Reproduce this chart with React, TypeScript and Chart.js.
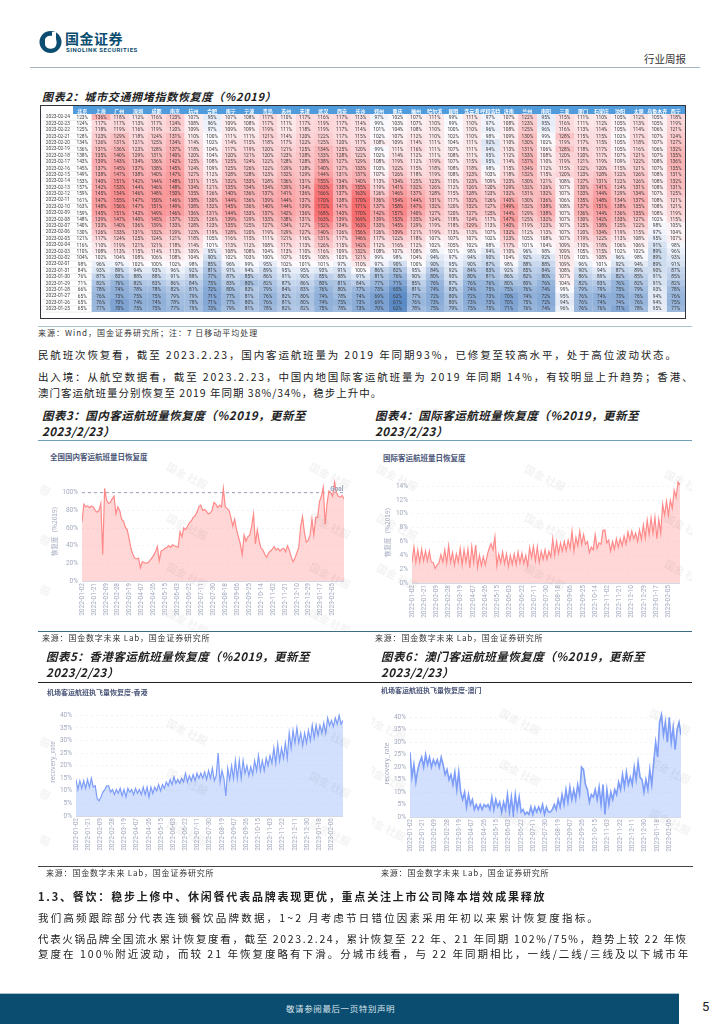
import React, { useEffect, useRef } from "react";
import { Chart, registerables } from "chart.js";

Chart.register(...registerables);

const cities = ["北京","上海","广州","深圳","成都","南京","杭州","合肥","南宁","宁波","青岛","苏州","天津","武汉","西安","长沙","郑州","重庆","福州","哈尔滨","昆明","连云港","呼和浩特","济南","兰州","南阳","三亚","厦门","石家庄","沈阳","太原","乌鲁木齐","西宁"];
const heatDates = ["2023-02-24","2023-02-23","2023-02-22","2023-02-21","2023-02-20","2023-02-19","2023-02-18","2023-02-17","2023-02-16","2023-02-15","2023-02-14","2023-02-13","2023-02-12","2023-02-11","2023-02-10","2023-02-09","2023-02-08","2023-02-07","2023-02-06","2023-02-05","2023-02-04","2023-02-03","2023-02-02","2023-02-01","2023-01-31","2023-01-30","2023-01-29","2023-01-28","2023-01-27","2023-01-26","2023-01-25"];
const heatValues = [
[123,136,118,112,116,123,107,95,107,108,117,110,117,116,117,113,97,102,107,111,99,111,97,107,122,95,115,111,110,105,112,105,118],
[124,117,117,113,117,124,108,96,109,108,117,111,117,119,117,114,99,103,107,110,99,110,97,108,123,95,116,111,112,105,113,105,119],
[125,118,119,116,119,120,109,97,109,109,119,111,118,119,117,114,101,104,108,110,100,110,96,108,125,96,116,113,114,105,114,106,121],
[128,123,129,118,124,131,110,100,111,111,121,114,120,122,117,115,102,107,112,110,102,110,98,109,130,99,128,115,115,102,117,107,124],
[134,126,131,121,125,134,114,102,114,115,118,117,122,125,120,117,108,109,114,111,104,111,92,110,130,102,119,117,115,105,118,107,127],
[136,131,136,123,128,137,118,104,117,119,120,121,125,134,125,120,99,111,116,111,107,111,94,113,131,106,128,118,117,105,116,106,132],
[138,135,140,129,131,140,120,104,120,121,120,123,128,133,128,122,102,114,112,111,108,111,95,112,133,108,120,120,117,107,121,107,135],
[143,139,143,134,136,142,125,108,125,124,122,128,128,138,127,129,108,119,112,119,107,115,95,114,137,110,119,121,119,109,122,108,136],
[145,137,145,137,138,145,124,109,125,126,122,129,128,140,127,133,103,122,115,118,108,118,98,115,134,112,115,122,120,115,121,107,135],
[149,138,147,138,140,147,127,112,128,128,123,132,129,144,131,137,107,126,118,119,108,123,103,118,132,115,120,123,128,122,126,108,131],
[153,140,151,142,144,148,131,115,132,133,128,136,131,155,134,140,113,134,125,123,110,123,109,123,130,121,108,127,131,122,126,108,132],
[157,142,153,144,146,148,134,121,135,134,134,139,134,163,138,155,119,141,132,126,112,126,120,129,132,126,107,130,141,124,131,108,131],
[159,145,154,146,148,150,135,126,140,136,137,141,136,166,137,163,126,146,137,128,115,128,123,132,131,132,107,133,144,129,134,107,125],
[161,147,155,147,150,146,138,130,144,136,139,144,137,170,138,170,136,154,144,131,117,132,126,140,130,136,106,135,148,134,137,108,121],
[163,148,156,147,151,149,138,132,145,136,140,144,139,172,141,171,137,158,147,132,120,132,127,149,132,138,108,137,151,138,135,108,121],
[159,145,151,143,149,146,136,131,144,133,137,142,136,168,143,170,142,157,140,127,120,127,125,144,129,138,107,136,144,136,135,108,119],
[148,139,147,140,145,137,132,126,139,129,133,138,131,163,139,169,139,153,135,124,118,124,117,147,125,132,107,130,142,133,127,102,115],
[140,133,140,136,139,133,128,123,135,125,127,134,127,152,134,163,133,145,129,119,118,129,113,140,119,123,107,125,138,125,122,98,105],
[130,126,133,131,132,129,123,119,128,120,119,129,127,140,126,156,126,139,121,119,113,113,107,132,112,113,107,120,134,119,115,97,104],
[121,117,124,125,124,121,118,105,116,115,111,121,116,131,117,146,117,122,118,107,107,107,102,123,105,108,107,119,122,113,108,95,107],
[116,110,119,121,121,118,114,101,113,112,108,117,113,126,115,142,112,116,112,102,105,102,98,117,101,104,109,110,118,106,106,91,98],
[110,108,113,115,114,113,109,95,108,108,104,113,110,116,109,132,108,107,108,98,101,98,94,110,96,98,109,105,115,102,102,89,96],
[104,102,104,108,106,108,104,90,102,103,100,107,105,108,103,121,99,98,104,94,97,94,90,104,92,92,110,100,108,96,98,89,93],
[98,96,97,102,100,102,98,85,96,99,95,102,101,101,97,110,97,90,100,90,95,90,87,98,88,88,109,96,101,92,94,89,91],
[84,93,89,94,93,96,92,81,91,94,89,95,95,93,91,100,86,82,95,84,92,84,83,92,85,84,108,90,94,87,89,90,87],
[76,87,83,88,88,91,88,77,87,85,86,91,90,85,88,91,81,76,90,80,90,80,81,86,82,80,107,86,89,82,85,91,85],
[71,82,76,82,83,86,84,75,83,80,82,87,86,80,81,84,77,71,85,76,87,76,76,80,80,76,104,82,83,76,82,91,82],
[66,78,74,78,78,82,81,72,80,83,79,84,83,76,80,77,73,65,81,74,83,74,75,75,76,74,99,79,79,75,79,93,78],
[65,76,73,75,75,79,79,71,77,81,76,82,80,74,78,74,69,62,77,72,80,72,73,70,74,72,95,76,74,73,76,94,76],
[65,76,70,74,74,78,78,71,77,80,76,81,80,74,75,73,69,61,76,73,80,73,73,70,75,72,94,76,74,74,76,94,75],
[65,77,70,75,75,77,79,73,79,81,78,82,82,75,78,73,70,62,78,75,79,75,75,71,76,74,96,76,76,71,78,95,77],
];

const dayStep = 3;
const domesticValues = [67,87,84,85,83,85,84,80,78,80,88,30,105,92,88,89,93,96,76,84,80,70,68,61,58,48,37,30,26,25,26,15,22,21,20,21,23,26,29,33,39,23,34,35,37,38,40,38,41,40,39,38,56,50,60,58,62,66,68,72,74,78,84,86,80,81,79,76,77,80,89,87,83,86,84,105,84,82,80,72,62,70,58,50,42,30,52,45,50,52,62,76,42,58,45,37,35,30,27,32,34,36,39,35,37,34,36,37,33,40,35,27,22,26,32,38,62,73,55,44,46,52,70,52,72,72,90,96,106,64,88,102,100,96,112,100,96,95,97,93];
const intlValues = [3.0,5.2,3.0,4.8,3.0,4.9,3.2,4.6,3.2,4.6,3.0,3.0,2.1,2.6,2.9,4.1,3.0,4.8,2.9,5.4,3.0,4.4,2.6,4.2,3.0,5.0,2.6,4.8,3.0,4.9,2.2,5.3,3.0,5.5,2.3,4.0,2.5,3.8,2.6,4.0,5.0,5.7,4.8,6.7,2.5,4.2,2.9,4.5,2.8,4.2,2.4,4.0,2.7,4.2,2.7,4.5,2.9,4.3,2.8,4.0,2.5,5.1,3.7,5.3,3.2,5.2,3.0,4.6,3.4,4.8,3.4,4.6,3.8,6.4,4.0,6.0,4.3,5.8,4.6,6.0,4.7,6.2,5.0,7.5,4.6,6.6,5.4,7.5,5.6,7.0,5.6,6.0,4.4,5.2,4.8,7.0,5.0,5.8,5.6,7.6,7.7,5.8,6.2,4.6,6.0,4.9,6.4,5.2,6.4,5.4,6.8,5.6,7.4,6.2,7.5,6.4,7.2,6.0,7.7,6.3,8.4,6.5,9.1,7.0,9.4,7.2,9.5,6.4,9.2,7.2,11.4,9.8,11.8,9.8,12.0,10.8,13.4,12.4,14.6,14.2];
const hongkongValues = [14.5,10.5,14,11,14,11,14.5,11.5,15,11.5,12,7,6,7.5,9.5,10.5,12,12,9.5,10.5,8.5,10.5,9,11,8,10.5,7.5,11,9.5,10.5,8.5,11,9,10.5,8.5,11.5,8.5,11.5,7.5,11.5,9,11.5,10,12.5,10,12.5,11,13.5,12,14.5,12.5,15.5,13,14.5,13,15,13.5,17,13.5,16,14,16.5,14,17,15,17,15,17.5,14.5,18,15,19,14,16,25,13.5,18,15,8,19,14.5,20,15,22,15,22,15,22,17,20,16,19.5,16.5,22,18,24,18,22,18,23,20,24,21,27,21,28.5,22,27,23,29,23,33,27,34,29,35,29,33,28,33,29,34,30,36,31,36,32,36,33,37,33,39,36,38,35.5,39,36.5,40,36.5,38];
const macauValues = [26,16,21,14,19,22,24,20,25,21,24,20,23,21,23,20,24,21,17,19,15,17,13,18,11,18,10,7,10,4,9,5,7,3,5,3,5,3,5,4,5,3,8,3,7,4,6,2,6,3,9,2,8,1,9,3,8,2,3,1,2,1,4,1,4,2,4,2,5,1,4,2,2,3,5,3,7,4,9,5,11,6,12,7,11,7,13,9,20,19,13,11,6,9,8,11,7,12,5,13,1,11,5,10,7,11,9,14,11,17,12,18,13,16,13,20,15,22,16,15,10,15,11,19,13,22,30,24,38,41,33,38,30,40,30,36,27,35,38,33];

const tickDates3 = ["2022-01-02","2022-01-21","2022-02-09","2022-02-28","2022-03-19","2022-04-07","2022-04-26","2022-05-15","2022-06-03","2022-06-22","2022-07-11","2022-07-30","2022-08-18","2022-09-06","2022-09-25","2022-10-14","2022-11-02","2022-11-21","2022-12-10","2022-12-29","2023-01-17","2023-02-05"];
const tickDates5 = ["2022-01-02","2022-01-21","2022-02-09","2022-02-28","2022-03-19","2022-04-07","2022-04-26","2022-05-15","2022-06-03","2022-06-22","2022-07-11","2022-07-30","2022-08-19","2022-09-07","2022-09-26","2022-10-15","2022-11-03","2022-11-22","2022-12-11","2022-12-30","2023-01-18","2023-02-06"];
const ticksDomestic = [0,20,40,60,80,100];
const ticksIntl = [0,2,4,6,8,10,12,14];
const ticksAirport = [0,5,10,15,20,25,30,35,40];

const SANS = '"Noto Sans CJK SC", "Noto Sans", sans-serif';
const AXIS = 'Roboto, "Noto Sans CJK SC", sans-serif';
const TEAL = "#0b4d70";

function mix(a: number[], b: number[], t: number) {
  const c = a.map((v, i) => Math.round(v + (b[i] - v) * t));
  return `rgb(${c[0]},${c[1]},${c[2]})`;
}
function heatColor(v: number) {
  const white = [252, 252, 255], red = [248, 105, 107], blue = [90, 138, 198];
  return v >= 100 ? mix(white, red, Math.min(1, (v - 100) / 72)) : mix(white, blue, Math.min(1, (100 - v) / 39));
}

function Heatmap() {
  const ref = useRef<HTMLCanvasElement>(null);
  useEffect(() => {
    const datasets = cities.map((c, ci) => {
      const colors = heatValues.map((r) => (ci === 0 ? "rgba(255,255,255,0)" : heatColor(r[ci])));
      return {
        label: c,
        data: heatDates.map(() => 1),
        backgroundColor: colors,
        borderColor: colors,
        borderWidth: 0.4,
        barPercentage: 1,
        categoryPercentage: 1,
      };
    });
    const labelPlugin = {
      id: "cellLabels",
      beforeDraw(ch: any) {
        const { ctx, chartArea: a, scales } = ch;
        ctx.save();
        ctx.fillStyle = "#4f9bdc";
        ctx.fillRect(a.left, 0, a.right - a.left, a.top);
        ctx.strokeStyle = "#dcdcdc";
        ctx.lineWidth = 0.5;
        const colW = (a.right - a.left) / cities.length;
        heatDates.forEach((_, i) => {
          const y = scales.y.getPixelForTick(i) + (a.bottom - a.top) / heatDates.length / 2;
          ctx.beginPath();
          ctx.moveTo(2, y);
          ctx.lineTo(a.left + colW, y);
          ctx.stroke();
        });
        ctx.restore();
      },
      afterDatasetsDraw(ch: any) {
        const { ctx } = ch;
        ctx.save();
        ctx.font = `4.8px ${AXIS}`;
        ctx.fillStyle = "#3a3a3a";
        ctx.textAlign = "center";
        ctx.textBaseline = "middle";
        ch.data.datasets.forEach((_: any, ci: number) => {
          ch.getDatasetMeta(ci).data.forEach((bar: any, ri: number) => {
            const p = bar.getProps(["x", "y", "base"], true);
            ctx.fillText(`${heatValues[ri][ci]}%`, (p.x + p.base) / 2, p.y + 0.3);
          });
        });
        ctx.restore();
      },
    };
    const chart = new Chart(ref.current!, {
      type: "bar",
      data: { labels: heatDates, datasets },
      plugins: [labelPlugin],
      options: {
        indexAxis: "y",
        animation: false,
        responsive: false,
        layout: { padding: 0 },
        plugins: { legend: { display: false }, tooltip: { enabled: false }, title: { display: false } },
        scales: {
          x: { stacked: true, min: 0, max: cities.length, display: false },
          city: {
            type: "category",
            position: "top",
            labels: cities,
            offset: true,
            grid: { display: false, drawTicks: false },
            border: { display: false },
            ticks: { color: "#ffffff", font: { size: 5, family: SANS, weight: "bold" }, padding: 0, autoSkip: false, maxRotation: 0, minRotation: 0 },
            afterFit(s: any) { s.height = 8; },
          },
          y: {
            stacked: true,
            grid: { display: false, drawTicks: false },
            border: { display: false },
            ticks: { color: "#444444", font: { size: 4.8, family: AXIS }, padding: 3, autoSkip: false, crossAlign: "near" },
            afterFit(s: any) { s.width = 32; },
          },
        },
      },
    } as any);
    return () => chart.destroy();
  }, []);
  return <canvas ref={ref} width={644} height={212} style={{ position: "absolute", left: 0, top: 0, width: 644, height: 212 }} />;
}

type LineProps = {
  left: number; top: number; width: number; height: number;
  plotLeft: number; axisHeight: number;
  values: number[]; tickDates: string[]; yTicks: number[]; yMax: number;
  line: string; fill: string; yTitle: string; goal?: number;
  days: number; lineWidth: number;
};

function LineChart(p: LineProps) {
  const ref = useRef<HTMLCanvasElement>(null);
  useEffect(() => {
    const datasets: any[] = [
      {
        data: p.values.map((v, i) => ({ x: i * dayStep, y: v })),
        borderColor: p.line,
        backgroundColor: p.fill,
        borderWidth: p.lineWidth,
        pointRadius: 0,
        tension: 0,
        fill: "origin",
      },
    ];
    const plugins: any[] = [];
    if (p.goal !== undefined) {
      datasets.push({
        data: [{ x: 0, y: p.goal }, { x: p.days, y: p.goal }],
        borderColor: "#8088a8",
        borderWidth: 0.8,
        borderDash: [3, 3],
        pointRadius: 0,
        fill: false,
      });
      plugins.push({
        id: "goalLabel",
        afterDatasetsDraw(ch: any) {
          const { ctx, chartArea: a, scales } = ch;
          ctx.save();
          ctx.font = `bold 6.5px ${AXIS}`;
          ctx.fillStyle = "#9aa2b8";
          ctx.textAlign = "right";
          ctx.fillText("Goal", a.right - 0.5, scales.y.getPixelForValue(p.goal!) - 2);
          ctx.restore();
        },
      });
    }
    const chart = new Chart(ref.current!, {
      type: "line",
      data: { datasets },
      plugins,
      options: {
        animation: false,
        responsive: false,
        layout: { padding: 0 },
        plugins: { legend: { display: false }, tooltip: { enabled: false }, title: { display: false } },
        scales: {
          x: {
            type: "linear",
            min: 0,
            max: p.days,
            grid: { display: false, drawTicks: false },
            border: { color: "#d4d9e6" },
            afterBuildTicks(s: any) { s.ticks = p.tickDates.map((_, i) => ({ value: i * 19 })); },
            ticks: {
              color: "#a3aabf",
              font: { size: 6.5, family: AXIS },
              padding: 2,
              autoSkip: false,
              maxRotation: 90,
              minRotation: 90,
              callback: (_: any, i: number) => p.tickDates[i],
            },
            afterFit(s: any) { s.height = p.axisHeight; },
          },
          y: {
            min: 0,
            max: p.yMax,
            grid: { color: "#eff0f5", drawTicks: false, lineWidth: 0.8 },
            border: { display: false, dash: [2, 3] },
            afterBuildTicks(s: any) { s.ticks = p.yTicks.map((v) => ({ value: v })); },
            ticks: { color: "#a3aabf", font: { size: 6.5, family: AXIS }, padding: 4, callback: (v: any) => `${v}%` },
            title: { display: true, text: p.yTitle, color: "#a3aabf", font: { size: 6.5, family: SANS }, padding: { top: 0, bottom: 0 } },
            afterFit(s: any) { s.width = p.plotLeft; },
          },
        },
      },
    } as any);
    return () => chart.destroy();
  }, []);
  return <canvas ref={ref} width={p.width} height={p.height} style={{ position: "absolute", left: p.left, top: p.top, width: p.width, height: p.height }} />;
}

function T(props: { x: number; y: number; size: number; text: string; color?: string; bold?: boolean; italic?: boolean; spacing?: number; family?: string }) {
  const { x, y, size, text, color, bold, italic, spacing, family } = props;
  return (
    <div style={{ position: "absolute", left: x, top: y - size * 0.75, fontSize: size, lineHeight: `${size * 1.5}px`, whiteSpace: "pre", color: color ?? "#222", fontWeight: bold ? 700 : 400, fontStyle: italic ? "italic" : "normal", letterSpacing: spacing ?? 0, fontFamily: family ?? SANS }}>
      {text}
    </div>
  );
}

function Rule(props: { x: number; y: number; w: number; color: string; h?: number }) {
  return <div style={{ position: "absolute", left: props.x, top: props.y, width: props.w, height: props.h ?? 1, background: props.color }} />;
}

function Watermarks(props: { left: number; top: number; width: number; height: number; marks: number[][] }) {
  return (
    <div style={{ position: "absolute", left: props.left, top: props.top, width: props.width, height: props.height, overflow: "hidden", pointerEvents: "none" }}>
      {props.marks.map((m, i) => (
        <div key={i} style={{ position: "absolute", left: m[0] - props.left - 28, top: m[1] - props.top - 8, width: 56, textAlign: "center", fontSize: 10.5, lineHeight: "16px", color: "rgba(90,90,90,0.07)", transform: "rotate(27deg)", whiteSpace: "pre", fontFamily: SANS, fontWeight: 700 }}>
          国金 社服
        </div>
      ))}
    </div>
  );
}

const title2 = "图表2\uFF1A城市交通拥堵指数恢复度\uFF08%2019\uFF09";
const title3a = "图表3\uFF1A国内客运航班量恢复度\uFF08%2019\uFF0C更新至";
const title4a = "图表4\uFF1A国际客运航班量恢复度\uFF08%2019\uFF0C更新至";
const title5a = "图表5\uFF1A香港客运航班量恢复度\uFF08%2019\uFF0C更新至";
const title6a = "图表6\uFF1A澳门客运航班量恢复度\uFF08%2019\uFF0C更新至";
const titleB = "2023/2/23\uFF09";
const sourceWind = "来源\uFF1AWind\uFF0C国金证券研究所\uFF1B注\uFF1A7 日移动平均处理";
const sourceLab = "来源\uFF1A国金数字未来 Lab\uFF0C国金证券研究所";
const para1 = "民航班次恢复看\uFF0C截至 2023.2.23\uFF0C国内客运航班量为 2019 年同期93%\uFF0C已修复至较高水平\uFF0C处于高位波动状态。";
const para2a = "出入境\uFF1A从航空数据看\uFF0C截至 2023.2.23\uFF0C中国内地国际客运航班量为 2019 年同期 14%\uFF0C有较明显上升趋势\uFF1B香港、";
const para2b = "澳门客运航班量分别恢复至 2019 年同期 38%/34%\uFF0C稳步上升中。";
const heading13 = "1.3、餐饮\uFF1A稳步上修中、休闲餐代表品牌表现更优\uFF0C重点关注上市公司降本增效成果释放";
const para3 = "我们高频跟踪部分代表连锁餐饮品牌数据\uFF0C1~2 月考虑节日错位因素采用年初以来累计恢复度指标。";
const para4a = "代表火锅品牌全国流水累计恢复度看\uFF0C截至 2023.2.24\uFF0C累计恢复至 22 年、21 年同期 102%/75%\uFF0C趋势上较 22 年恢";
const para4b = "复度在 100%附近波动\uFF0C而较 21 年恢复度略有下滑。分城市线看\uFF0C与 22 年同期相比\uFF0C一线/二线/三线及以下城市年";

export default function App() {
  useEffect(() => {
    document.body.style.margin = "0";
    document.body.style.background = "#fff";
  }, []);
  const mid = "#6d9fb8";
  return (
    <div style={{ position: "absolute", left: 0, top: 0, width: 724, height: 1024, overflow: "hidden", background: "#fff", fontFamily: SANS }}>
      {/* logo */}
      <svg width={24} height={24} viewBox="0 0 24 24" style={{ position: "absolute", left: 39, top: 30 }}>
        <circle cx={11.5} cy={12} r={11} fill={TEAL} />
        <path d="M6 9 C7 6 11 5 13 6 L13 2 L17 2 L17 9 C18 12 18 16 15 18 C11 20 7 18 6 15 Z" fill="#fff" />
      </svg>
      <T x={65} y={38} size={14} bold color={TEAL} text="国金证券" spacing={0.5} />
      <T x={66} y={49} size={6} bold color={TEAL} text="SINOLINK SECURITIES" family="Roboto, sans-serif" spacing={0.55} />
      <T x={644} y={59} size={10.5} color="#333" text="行业周报" />
      <Rule x={30} y={67} w={670} color="#a2b6c6" />

      <T x={42} y={96} size={11} bold italic text={title2} spacing={0.7} />
      <div style={{ position: "absolute", left: 40, top: 105, width: 644, height: 212, border: "1.5px solid #30333a" }}>
        <Heatmap />
      </div>
      <Rule x={38} y={326} w={654} color="#a9c4cf" />
      <T x={38} y={333} size={8} color="#333" text={sourceWind} spacing={1} />

      <T x={38} y={355} size={10.5} text={para1} spacing={1.85} />
      <T x={38} y={377} size={10.5} text={para2a} spacing={1.85} />
      <T x={38} y={393} size={10.5} text={para2b} spacing={1.0} />

      {/* charts 3 and 4 */}
      <T x={42} y={416} size={11.5} bold italic text={title3a} spacing={0.5} />
      <T x={42} y={432} size={11.5} bold italic text={titleB} spacing={0.5} />
      <T x={375} y={416} size={11.5} bold italic text={title4a} spacing={0.5} />
      <T x={375} y={432} size={11.5} bold italic text={titleB} spacing={0.5} />
      <Rule x={38} y={440} w={654} color={mid} />

      <T x={50} y={457} size={7.5} bold color="#4a5578" text="全国国内客运航班量日恢复度" />
      <T x={383} y={458} size={7.5} bold color="#4a5578" text="国际客运航班量日恢复度" />
      <LineChart left={51} top={470} width={293} height={151} plotLeft={31} axisHeight={40} values={domesticValues} tickDates={tickDates3} yTicks={ticksDomestic} yMax={116.8} line="#ff8a8a" fill="rgba(255,150,150,0.38)" yTitle={"恢复度\uFF08%2019\uFF09"} goal={100} days={417} lineWidth={1.2} />
      <LineChart left={384} top={470} width={296} height={153} plotLeft={28} axisHeight={40} values={intlValues} tickDates={tickDates3} yTicks={ticksIntl} yMax={15.2} line="#ff8a8a" fill="rgba(255,150,150,0.38)" yTitle={"恢复度\uFF08%2019\uFF09"} days={417} lineWidth={1.2} />
      <Watermarks left={40} top={450} width={326} height={180} marks={[[187,476],[330,476],[30,483],[187,527],[330,526],[30,533],[187,576],[330,576],[30,583],[187,622],[330,622]]} />
      <Watermarks left={372} top={450} width={320} height={180} marks={[[397,478],[545,478],[685,483],[397,527],[545,527],[685,527],[397,577],[545,577],[685,573]]} />
      <Rule x={38} y={631} w={654} color="#3d6c86" />
      <T x={42} y={638} size={8} color="#333" text={sourceLab} spacing={0.8} />
      <T x={375} y={638} size={8} color="#333" text={sourceLab} spacing={0.8} />

      {/* charts 5 and 6 */}
      <T x={46} y={657} size={11.5} bold italic text={title5a} spacing={0.5} />
      <T x={46} y={673} size={11.5} bold italic text={titleB} spacing={0.5} />
      <T x={381} y={657} size={11.5} bold italic text={title6a} spacing={0.5} />
      <T x={381} y={673} size={11.5} bold italic text={titleB} spacing={0.5} />
      <Rule x={38} y={682} w={654} color="#222" />
      <T x={47} y={692} size={7} bold color="#4a5578" text="机场客运航班执飞量恢复度-香港" />
      <T x={381} y={690} size={7} bold color="#4a5578" text="机场客运航班执飞量恢复度-澳门" />
      <LineChart left={49} top={700} width={294} height={155} plotLeft={27} axisHeight={39} values={hongkongValues} tickDates={tickDates5} yTicks={ticksAirport} yMax={42.96} line="#7d9df8" fill="rgba(150,180,250,0.42)" yTitle="recovery_rate" days={417} lineWidth={1.2} />
      <LineChart left={383} top={702} width={298} height={154} plotLeft={27} axisHeight={39} values={macauValues} tickDates={tickDates5} yTicks={ticksAirport} yMax={43} line="#7d9df8" fill="rgba(150,180,250,0.42)" yTitle="recovery_rate" days={417} lineWidth={1.6} />
      <Watermarks left={40} top={683} width={326} height={184} marks={[[187,732],[330,735],[30,735],[187,782],[330,785],[30,787],[187,833],[330,833],[30,833]]} />
      <Watermarks left={372} top={683} width={320} height={184} marks={[[520,722],[670,722],[385,728],[520,773],[670,771],[385,778],[520,822],[670,822],[385,828]]} />
      <Rule x={38} y={866} w={655} color="#444" />
      <T x={46} y={873} size={8} color="#333" text={sourceLab} spacing={0.8} />
      <T x={381} y={873} size={8} color="#333" text={sourceLab} spacing={0.8} />

      {/* text below */}
      <T x={38} y={896} size={11} bold text={heading13} spacing={1.8} />
      <T x={38} y={918} size={10.5} text={para3} spacing={2.2} />
      <T x={38} y={939} size={10.5} text={para4a} spacing={1.65} />
      <T x={38} y={954} size={10.5} text={para4b} spacing={2.03} />

      <div style={{ position: "absolute", left: 0, top: 993, width: 679, height: 31, background: TEAL, borderTop: "1px solid #a9c0cd", boxSizing: "border-box" }} />
      <T x={286} y={1008} size={8.5} color="#d8e4ea" text="敬请参阅最后一页特别声明" spacing={0.6} />
      <T x={702} y={1007} size={13} color="#222" text="5" family="Roboto, sans-serif" />
    </div>
  );
}
